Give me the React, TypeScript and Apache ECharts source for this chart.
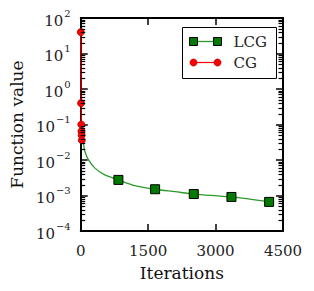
import React, { useEffect, useRef } from "react";
import * as echarts from "echarts";

const xTicks = [0, 1500, 3000, 4500];
const yDecades = [-4, -3, -2, -1, 0, 1, 2];

// LCG: continuous curve; markers only on selected iterations
const lcgIter = [20, 66, 95, 169, 316, 536, 838, 1200, 1655, 2100, 2515, 3353, 4191];
const lcgValue = [0.08, 0.026, 0.017, 0.0102, 0.0059, 0.0038, 0.00275, 0.0019, 0.0015, 0.00128, 0.0011, 0.00091, 0.00066];
const lcgMarked = [838, 1655, 2515, 3353, 4191];

// CG
const cgIter = [2, 8, 12, 16, 20, 24];
const cgValue = [40, 0.4, 0.1, 0.065, 0.05, 0.036];

const legendNames = ["LCG", "CG"];

const FONT = "DejaVu Serif";

export default function App() {
  const ref = useRef<HTMLDivElement>(null);
  useEffect(() => {
    if (!ref.current) return;
    const chart = echarts.init(ref.current, null, { renderer: "svg" });

    const xMin = xTicks[0];
    const xMax = xTicks[xTicks.length - 1];
    const eMin = yDecades[0];
    const eMax = yDecades[yDecades.length - 1];

    const supMap: Record<string, string> = { "-": "−" };
    const fmtY = (v: number) => {
      const e = Math.round(Math.log10(v));
      const s = String(e).split("").map((c) => supMap[c] || c).join("");
      return "{b|10}{s|" + s + "}";
    };

    const lcgData = lcgIter.map((x, i) => {
      const marked = lcgMarked.indexOf(x) >= 0;
      return marked ? { value: [x, lcgValue[i]] } : { value: [x, lcgValue[i]], symbol: "none" };
    });
    const cgData = cgIter.map((x, i) => [x, cgValue[i]]);

    const axisLine = { show: true, onZero: false, lineStyle: { color: "#000", width: 2 } };
    const tick = { show: true, inside: true, length: 7, lineStyle: { color: "#000", width: 1.5 } };
    const lx = 182, ly = 27, lw = 94, lh = 51;

    const legendGroup = {
      type: "group",
      id: "legend",
      left: lx,
      top: ly,
      z: 10,
      children: [
        { type: "rect", shape: { x: 0, y: 0, width: lw, height: lh }, style: { fill: "#fff", stroke: "#000", lineWidth: 1 } },
        { type: "line", shape: { x1: 11, y1: 14, x2: 35, y2: 14 }, style: { stroke: "#2a9a2a", lineWidth: 1.3 } },
        { type: "rect", shape: { x: 7, y: 10, width: 8, height: 8 }, style: { fill: "#007a00", stroke: "#000", lineWidth: 1 } },
        { type: "rect", shape: { x: 31, y: 10, width: 8, height: 8 }, style: { fill: "#007a00", stroke: "#000", lineWidth: 1 } },
        { type: "text", style: { x: 51, y: 14, text: legendNames[0], fontFamily: FONT, fontSize: 15, fill: "#222", verticalAlign: "middle" } },
        { type: "line", shape: { x1: 11, y1: 35, x2: 35, y2: 35 }, style: { stroke: "#ff0000", lineWidth: 1.2 } },
        { type: "circle", shape: { cx: 11, cy: 35, r: 3.5 }, style: { fill: "#ff0000", stroke: "#aa0000", lineWidth: 0.8 } },
        { type: "circle", shape: { cx: 35, cy: 35, r: 3.5 }, style: { fill: "#ff0000", stroke: "#aa0000", lineWidth: 0.8 } },
        { type: "text", style: { x: 51, y: 35, text: legendNames[1], fontFamily: FONT, fontSize: 15, fill: "#222", verticalAlign: "middle" } },
      ],
    };

    chart.setOption({
      animation: false,
      grid: { left: 79, right: 31, top: 18, bottom: 60, containLabel: false },
      xAxis: [
        {
          type: "value",
          min: xMin,
          max: xMax,
          interval: 1500,
          name: "Iterations",
          nameLocation: "middle",
          nameGap: 33,
          nameTextStyle: { fontFamily: FONT, fontSize: 17, color: "#111" },
          axisLine,
          axisTick: tick,
          axisLabel: { fontFamily: FONT, fontSize: 15, color: "#222", margin: 12, formatter: (v: number) => String(v) },
          splitLine: { show: false },
        },
        {
          type: "value",
          position: "top",
          min: xMin,
          max: xMax,
          interval: 1500,
          axisLine,
          axisTick: tick,
          axisLabel: { show: false },
          splitLine: { show: false },
        },
      ],
      yAxis: [
        {
          type: "log",
          logBase: 10,
          min: Math.pow(10, eMin),
          max: Math.pow(10, eMax),
          name: "Function value",
          nameLocation: "middle",
          nameGap: 55,
          nameRotate: 90,
          nameTextStyle: { fontFamily: FONT, fontSize: 17, color: "#111" },
          axisLine,
          axisTick: tick,
          axisLabel: {
            formatter: fmtY,
            margin: 10,
            rich: {
              b: { fontFamily: FONT, fontSize: 15, color: "#222", lineHeight: 20, verticalAlign: "bottom" },
              s: { fontFamily: FONT, fontSize: 10, color: "#222", lineHeight: 10, verticalAlign: "top", padding: [0, 0, 0, 1] },
            },
          },
          splitLine: { show: false },
        },
        {
          type: "log",
          logBase: 10,
          position: "right",
          min: Math.pow(10, eMin),
          max: Math.pow(10, eMax),
          axisLine,
          axisTick: tick,
          axisLabel: { show: false },
          splitLine: { show: false },
        },
      ],
      series: [
        {
          type: "line",
          name: legendNames[0],
          data: lcgData,
          smooth: 0.3,
          showAllSymbol: true,
          symbol: "rect",
          symbolSize: 9,
          lineStyle: { color: "#2a9a2a", width: 1.3 },
          itemStyle: { color: "#007a00", borderColor: "#000", borderWidth: 1 },
          z: 3,
        },
        {
          type: "line",
          name: legendNames[1],
          data: cgData,
          symbol: "circle",
          symbolSize: 7,
          lineStyle: { color: "#ff0000", width: 1.2 },
          itemStyle: { color: "#ff0000", borderColor: "#aa0000", borderWidth: 0.8 },
          z: 4,
        },
      ],
      graphic: [legendGroup],
    });

    // minor log ticks (2..9 x 10^k) on left and right spines, placed through the axis scales
    const minor: any[] = [];
    for (let k = eMin; k < eMax; k++) {
      for (let m = 2; m <= 9; m++) {
        const v = m * Math.pow(10, k);
        const pl = chart.convertToPixel({ xAxisIndex: 0, yAxisIndex: 0 }, [xMin, v]) as number[];
        const pr = chart.convertToPixel({ xAxisIndex: 0, yAxisIndex: 0 }, [xMax, v]) as number[];
        if (!pl || !pr || isNaN(pl[1])) continue;
        const y = Math.round(pl[1]) + 0.5;
        minor.push({ type: "line", z: 6, silent: true, shape: { x1: pl[0], y1: y, x2: pl[0] + 4.5, y2: y }, style: { stroke: "#000", lineWidth: 1.2 } });
        minor.push({ type: "line", z: 6, silent: true, shape: { x1: pr[0], y1: y, x2: pr[0] - 4.5, y2: y }, style: { stroke: "#000", lineWidth: 1.2 } });
      }
    }
    chart.setOption({ graphic: [legendGroup, ...minor] });

    return () => chart.dispose();
  }, []);
  return <div ref={ref} style={{ position: "fixed", left: 0, top: 0, width: 314, height: 291, background: "#fff" }} />;
}
